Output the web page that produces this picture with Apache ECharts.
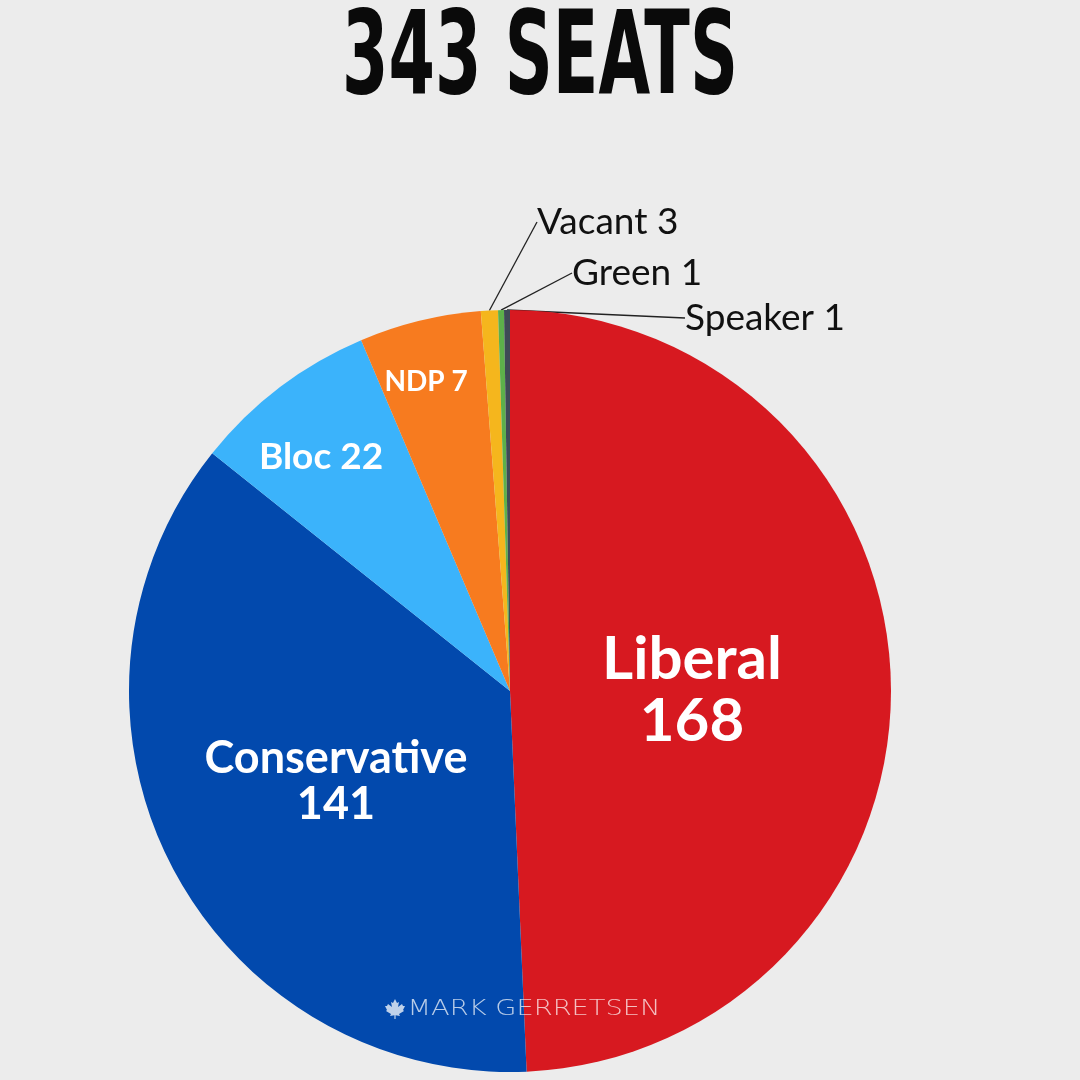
<!DOCTYPE html>
<html>
<head>
<meta charset="utf-8">
<script src="https://cdn.jsdelivr.net/npm/echarts@6/dist/echarts.min.js"></script>
<style>
  html, body { margin: 0; padding: 0; background: #ececec; }
  #container { width: 1080px; height: 1080px; }
</style>
</head>
<body>
<div id="container"></div>
<script>
var dom = document.getElementById("container");
var myChart = echarts.init(dom);

// seats by party, clockwise from the top
var parties = ['Liberal', 'Conservative', 'Bloc', 'NDP', 'Vacant', 'Green', 'Speaker'];
var seats = [168, 141, 22, 7, 3, 1, 1];
// the graphic's wedges aren't drawn to the printed counts,
// so the slice sizes are read off the picture (degrees of the circle)
var sliceDeg = [177.5, 131.1, 28.4, 18.6, 2.6, 0.9, 0.9];
var colors = ['#d71920', '#0249ad', '#3bb3fb', '#f77b1f', '#f5b61d', '#5db04a', '#3e4a56'];

// label styling per slice
var labelSize = [60, 45, 37, 28, 37, 37, 37];
var inside = [true, true, true, true, false, false, false];
var twoLines = [true, true, false, false, false, false, false];
var labelSpots = [[692, 691], [336, 781], [321, 457], [426, 382], [537, 222], [572, 273], [685, 318]];

// little maple leaf for the watermark
var leaf = [[10, 0], [12, 4], [14, 3], [13, 8], [17, 5], [18, 7], [20, 7], [18, 11], [19, 12], [14, 15], [15, 17],
  [10.6, 16.2], [10.6, 20], [9.4, 20], [9.4, 16.2], [5, 17], [6, 15], [1, 12], [2, 11], [0, 7], [2, 7], [3, 5],
  [7, 8], [6, 3], [8, 4]];

var pieData = parties.map(function (p, i) {
  return {
    name: p,
    value: sliceDeg[i],
    seats: seats[i],
    itemStyle: { color: colors[i] },
    label: {
      color: inside[i] ? '#ffffff' : '#111111',
      fontWeight: inside[i] ? 'bold' : 'normal',
      fontSize: labelSize[i],
      lineHeight: Math.round(labelSize[i] * 1.03),
      formatter: function (params) {
        return params.name + (twoLines[i] ? '\n' : ' ') + seats[i];
      }
    },
    labelLine: {
      show: !inside[i],
      length: 20,
      length2: 0,
      lineStyle: { color: '#222', width: 1.3 }
    }
  };
});

option = {
  backgroundColor: '#ececec',
  animation: false,
  graphic: [
    {
      type: 'text',
      x: 540,
      y: 63,
      scaleX: 0.64,
      style: {
        text: '343 SEATS',
        font: 'bold 116px "DejaVu Sans Condensed"',
        fill: '#0a0a0a',
        align: 'center',
        verticalAlign: 'middle'
      }
    },
    {
      type: 'polygon',
      z: 100,
      x: 385,
      y: 999,
      shape: { points: leaf },
      style: { fill: 'rgba(255,255,255,0.75)' }
    },
    {
      type: 'text',
      z: 100,
      x: 534,
      y: 1010,
      scaleX: 1.3,
      style: {
        text: 'MARK GERRETSEN',
        font: '300 21px "DejaVu Sans"',
        fill: 'rgba(255,255,255,0.72)',
        align: 'center',
        verticalAlign: 'middle'
      }
    }
  ],
  series: [{
    type: 'pie',
    center: [510, 691],
    radius: [0, 381],
    startAngle: 90,
    clockwise: true,
    avoidLabelOverlap: false,
    itemStyle: { borderWidth: 0 },
    label: {
      show: true,
      position: 'outside',
      fontFamily: 'Lato'
    },
    labelLayout: function (params) {
      var i = params.dataIndex;
      return {
        x: labelSpots[i][0],
        y: labelSpots[i][1],
        align: inside[i] ? 'center' : 'left',
        verticalAlign: 'middle'
      };
    },
    data: pieData
  }]
};

if (option && typeof option === "object") {
  myChart.setOption(option, true);
}
</script>
</body>
</html>
